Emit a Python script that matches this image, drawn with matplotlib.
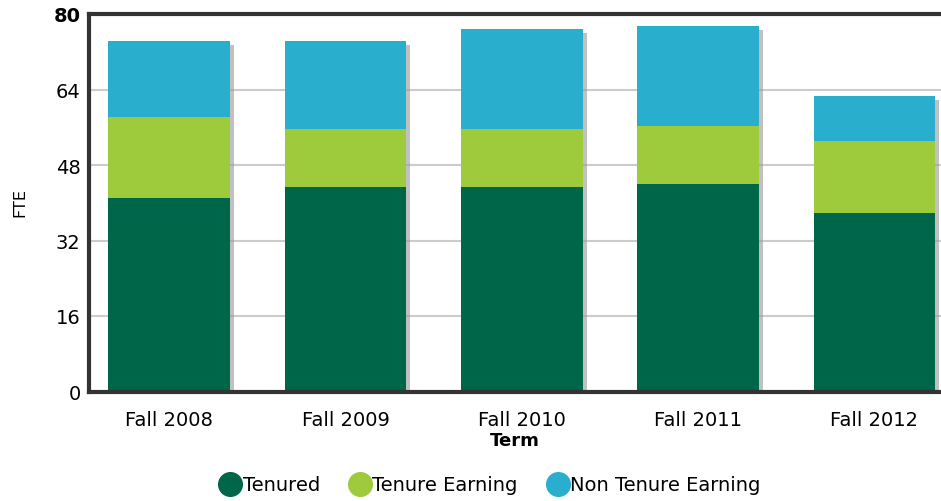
import matplotlib
matplotlib.use("Agg")
import matplotlib.pyplot as plt
import matplotlib.patheffects as pe
from matplotlib.lines import Line2D
import numpy as np

terms = ["Fall 2008", "Fall 2009", "Fall 2010", "Fall 2011", "Fall 2012"]
tenured = [41.1, 43.4, 43.4, 44.0, 37.8]
tenure_earning = [17.0, 12.2, 12.2, 12.2, 15.2]
non_tenure_earning = [16.2, 18.7, 21.3, 21.3, 9.7]
series_names = ["Tenured", "Tenure Earning", "Non Tenure Earning"]
colors = ["#00664A", "#9DCB3B", "#2AAECE"]
yticks = [0, 16, 32, 48, 64, 80]

fig = plt.figure(figsize=(9.41, 5.02), dpi=100)
ax = fig.add_axes([89/941, 1-392.5/502, 1-89/941, (392.5-15)/502])

x = np.arange(len(terms))
w = 0.69
totals = np.array(tenured) + np.array(tenure_earning) + np.array(non_tenure_earning)
shadow_bars = ax.bar(x, totals, w, color="#999999", zorder=2, linewidth=0)
for b in shadow_bars:
    b.set_path_effects([pe.SimplePatchShadow(offset=(3, -3), shadow_rgbFace="#999999", alpha=0.6)])

bottom = np.zeros(len(terms))
for vals, c, name in zip([tenured, tenure_earning, non_tenure_earning], colors, series_names):
    ax.bar(x, vals, w, bottom=bottom, color=c, label=name, zorder=3, linewidth=0)
    bottom += np.array(vals)

ax.set_xlim(-0.455, 4.378)
ax.set_ylim(0, 80)
ax.set_yticks(yticks)
ax.set_xticks(x)
ax.set_xticklabels(terms, fontsize=14)
ax.tick_params(axis="y", labelsize=14, length=0, pad=6)
ax.tick_params(axis="x", length=0, pad=13)
for lbl in ax.get_yticklabels():
    if lbl.get_text() == "80":
        lbl.set_fontweight("bold")
ax.yaxis.grid(True, color="#cccccc", linewidth=1.5, zorder=0)
ax.set_axisbelow(True)
for s in ["left", "bottom", "top"]:
    ax.spines[s].set_color("#333333")
    ax.spines[s].set_linewidth(3)
    ax.spines[s].set_zorder(5)
ax.spines["right"].set_visible(False)

fig.text(20/941, 1-203/502, "FTE", rotation=90, ha="center", va="center", fontsize=11.5)
ax.set_xlabel("Term", fontsize=13, fontweight="bold", labelpad=2)

handles = [Line2D([], [], marker="o", linestyle="none", markersize=17,
                  markerfacecolor=c, markeredgecolor=c) for c in colors]
fig.legend(handles, series_names, loc="center", bbox_to_anchor=(489/941, 1-486/502),
           ncol=3, frameon=False, fontsize=14, handletextpad=0.0,
           columnspacing=1.4, handlelength=1.3)

fig.savefig("out.png", dpi=100)
